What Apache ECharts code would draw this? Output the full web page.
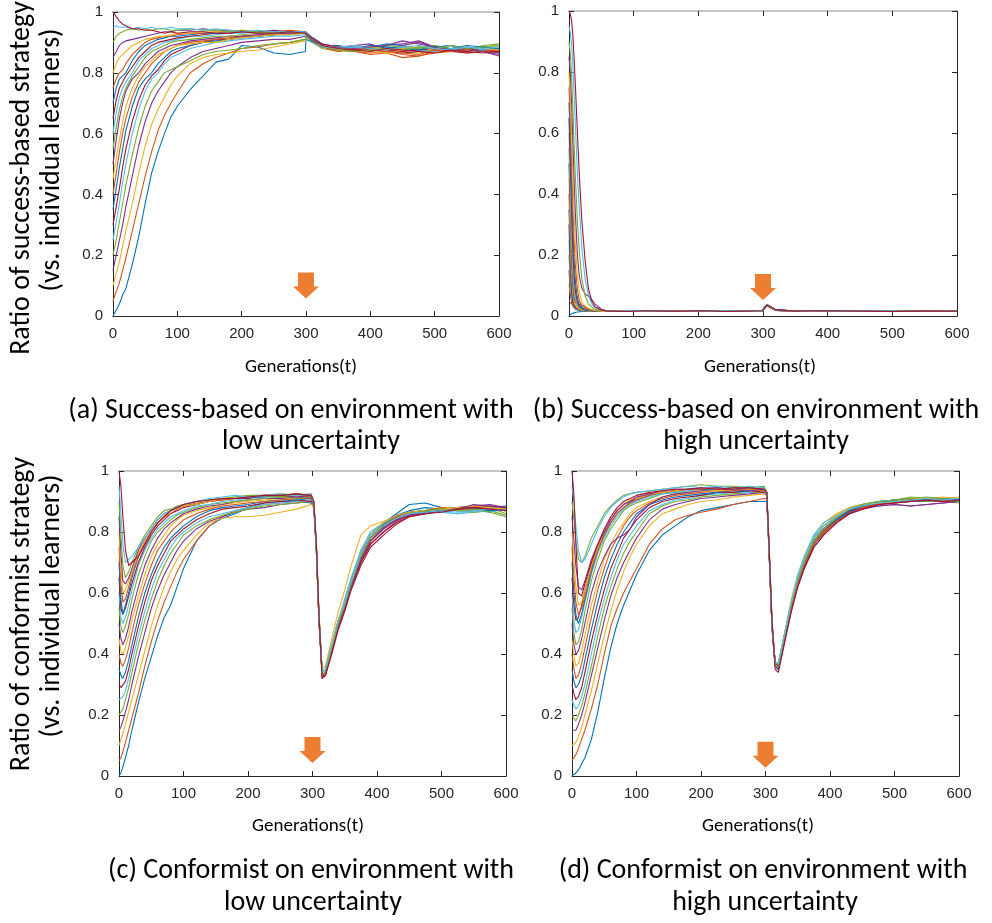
<!DOCTYPE html>
<html><head><meta charset="utf-8">
<script src="https://cdn.jsdelivr.net/npm/echarts@6/dist/echarts.min.js"></script>
<style>html,body{margin:0;padding:0;background:#fff}#c{width:992px;height:923px}</style>
</head><body><div id="c"></div>
<script>
const colors = ['#0072BD','#D95319','#EDB120','#7E2F8E','#77AC30','#4DBEEE','#A2142F'];
const xTicks = [0,100,200,300,400,500,600];

// (a) success-based, low uncertainty
const tA = [0,5,10,15,20,30,40,50,60,70,80,90,100,120,140,160,180,200,225,250,275,299,300,310,325,350,375,400,425,450,475,500,525,550,575,600];
const linesA = [
[0,.02,.04,.07,.09,.17,.26,.37,.47,.54,.60,.655,.69,.745,.79,.835,.845,.89,.885,.865,.86,.87, .91,.90,.89,.885,.88,.875,.88,.885,.87,.875,.88,.885,.875,.87],
[.05,.08,.11,.15,.19,.28,.37,.46,.54,.61,.66,.70,.735,.80,.83,.85,.865,.88,.885,.895,.90,.91, .92,.905,.89,.875,.87,.865,.87,.86,.855,.87,.875,.865,.87,.88],
[.10,.14,.18,.23,.28,.37,.47,.56,.63,.68,.72,.76,.79,.83,.85,.86,.865,.87,.875,.885,.895,.905, .925,.91,.895,.885,.89,.88,.875,.87,.865,.875,.88,.87,.875,.885],
[.15,.20,.25,.30,.36,.46,.56,.64,.70,.74,.77,.80,.82,.85,.87,.88,.89,.90,.905,.91,.91,.92, .925,.905,.885,.88,.875,.885,.89,.895,.905,.885,.875,.88,.87,.855],
[.20,.25,.31,.37,.43,.53,.62,.69,.74,.77,.80,.81,.82,.84,.86,.87,.875,.88,.89,.895,.90,.91, .92,.90,.88,.87,.875,.88,.885,.88,.885,.89,.88,.875,.89,.895],
[.25,.31,.37,.44,.50,.60,.68,.74,.78,.80,.83,.85,.86,.88,.89,.90,.905,.91,.915,.92,.92,.925, .93,.91,.89,.885,.88,.89,.885,.875,.88,.885,.89,.88,.875,.88],
[.30,.36,.42,.49,.55,.64,.71,.76,.79,.81,.84,.86,.87,.89,.90,.91,.91,.92,.92,.925,.93,.93, .935,.915,.895,.88,.885,.875,.87,.865,.87,.875,.87,.88,.875,.865],
[.35,.42,.49,.55,.61,.69,.75,.78,.80,.83,.85,.87,.88,.89,.90,.905,.91,.915,.92,.925,.925,.93, .93,.905,.89,.89,.88,.885,.895,.89,.88,.885,.88,.89,.885,.875],
[.40,.47,.54,.60,.65,.72,.77,.80,.83,.85,.87,.88,.89,.90,.905,.91,.915,.92,.925,.925,.93,.93, .93,.91,.885,.875,.87,.86,.865,.85,.855,.865,.87,.875,.87,.88],
[.45,.52,.58,.64,.69,.75,.79,.82,.84,.86,.87,.88,.89,.895,.90,.90,.91,.915,.92,.925,.925,.93, .935,.91,.89,.885,.875,.87,.865,.87,.88,.87,.875,.88,.87,.875],
[.50,.58,.65,.70,.74,.78,.80,.83,.85,.87,.88,.89,.895,.905,.91,.915,.92,.92,.925,.93,.93,.935, .935,.915,.895,.88,.89,.895,.88,.89,.90,.885,.875,.87,.88,.865],
[.55,.62,.68,.72,.75,.79,.82,.85,.87,.88,.89,.90,.905,.91,.915,.92,.92,.925,.93,.93,.935,.935, .935,.91,.885,.88,.875,.88,.89,.885,.88,.89,.875,.88,.885,.89],
[.60,.67,.72,.75,.77,.80,.84,.86,.88,.89,.90,.905,.91,.92,.92,.925,.93,.93,.935,.93,.935,.935, .935,.915,.89,.885,.89,.88,.875,.885,.875,.87,.88,.885,.875,.88],
[.65,.71,.75,.77,.79,.82,.85,.87,.89,.90,.905,.91,.915,.92,.925,.93,.93,.935,.935,.93,.935,.935, .935,.91,.895,.885,.875,.88,.875,.87,.875,.88,.87,.865,.87,.875],
[.70,.75,.78,.79,.80,.84,.87,.89,.90,.91,.915,.92,.92,.925,.93,.93,.935,.935,.935,.93,.935,.93, .93,.915,.89,.885,.88,.89,.885,.88,.875,.885,.89,.88,.885,.88],
[.75,.78,.80,.81,.83,.86,.88,.90,.91,.915,.92,.92,.925,.93,.93,.935,.935,.935,.935,.935,.94,.935, .935,.91,.885,.87,.88,.875,.87,.865,.86,.875,.87,.88,.87,.875],
[.80,.83,.85,.86,.87,.89,.90,.91,.915,.92,.92,.925,.93,.93,.935,.935,.935,.94,.935,.94,.935,.93, .93,.91,.89,.885,.88,.885,.875,.88,.885,.88,.875,.885,.88,.875],
[.85,.87,.89,.90,.905,.91,.915,.92,.925,.93,.935,.935,.94,.94,.945,.94,.94,.935,.935,.94,.935,.935, .935,.915,.895,.885,.88,.885,.89,.905,.895,.885,.875,.88,.87,.86],
[.90,.92,.93,.935,.94,.945,.94,.945,.94,.945,.945,.94,.94,.945,.94,.94,.935,.94,.935,.93,.935,.93, .93,.91,.89,.875,.87,.875,.88,.875,.885,.88,.89,.88,.885,.89],
[.95,.955,.95,.95,.95,.945,.95,.945,.95,.945,.945,.95,.945,.945,.94,.945,.94,.935,.94,.935,.935,.935, .935,.91,.885,.88,.885,.88,.875,.885,.89,.88,.875,.885,.88,.885],
[1,.985,.97,.96,.955,.945,.945,.94,.94,.935,.93,.935,.93,.935,.935,.93,.93,.935,.93,.93,.935,.93, .93,.91,.89,.88,.875,.87,.88,.875,.87,.865,.875,.87,.865,.87]
];

// (b) success-based, high uncertainty
const tB = [0,2,4,6,8,10,13,16,20,25,30,35,40,50,60,90,120,150,180,210,240,270,298,302,306,312,320,350,400,450,500,550,600];
const linesB = [
[0,.004,.007,.009,.011,.012,.013,.014,.015,.015,.016,.015,.016,.016, .016,.015,.017,.016,.015,.016,.017,.015,.016,.026,.036,.029,.019,.016,.015,.017,.016,.015,.016],
[.05,.045,.04,.036,.032,.029,.026,.023,.021,.019,.018,.017,.016,.016, .015,.016,.015,.017,.016,.015,.016,.017,.015,.025,.034,.028,.018,.015,.016,.015,.017,.016,.015],
[.10,.07,.055,.048,.043,.04,.036,.032,.028,.024,.021,.019,.018,.016, .017,.016,.015,.016,.017,.016,.015,.016,.017,.027,.037,.03,.02,.017,.016,.016,.015,.017,.016],
[.15,.08,.045,.032,.026,.022,.02,.018,.017,.016,.016,.015,.016,.016, .016,.017,.016,.015,.016,.017,.016,.015,.016,.024,.033,.027,.018,.016,.017,.015,.016,.016,.017],
[.2,.10,.055,.035,.027,.023,.02,.018,.017,.016,.016,.016,.015,.016, .015,.016,.017,.016,.015,.016,.017,.016,.015,.026,.035,.028,.019,.015,.016,.017,.016,.015,.016],
[.25,.13,.065,.04,.03,.025,.021,.019,.017,.016,.016,.015,.016,.015, .017,.015,.016,.017,.016,.015,.016,.017,.016,.025,.036,.029,.018,.017,.015,.016,.017,.016,.015],
[.3,.16,.08,.045,.032,.026,.022,.02,.018,.017,.016,.016,.015,.016, .016,.016,.015,.016,.017,.016,.015,.016,.015,.027,.038,.031,.02,.016,.016,.015,.016,.017,.016],
[.35,.2,.1,.055,.037,.029,.023,.02,.018,.017,.016,.016,.016,.015, .015,.017,.016,.015,.016,.017,.016,.015,.017,.024,.034,.027,.018,.015,.017,.016,.015,.016,.017],
[.4,.24,.12,.065,.042,.032,.025,.021,.019,.017,.016,.016,.015,.016, .016,.015,.017,.016,.015,.016,.017,.016,.016,.026,.035,.028,.019,.016,.015,.017,.016,.015,.016],
[.45,.29,.15,.08,.05,.036,.027,.022,.019,.018,.017,.016,.016,.015, .017,.016,.015,.017,.016,.015,.016,.017,.015,.025,.033,.027,.018,.017,.016,.015,.017,.016,.015],
[.5,.34,.19,.1,.06,.045,.04,.038,.035,.03,.024,.02,.018,.016, .015,.016,.016,.015,.017,.016,.015,.016,.017,.027,.037,.03,.02,.015,.016,.016,.015,.017,.016],
[.55,.39,.23,.13,.075,.05,.033,.026,.021,.019,.017,.016,.016,.015, .016,.017,.015,.016,.015,.017,.016,.015,.016,.026,.036,.029,.019,.016,.017,.015,.016,.016,.017],
[.6,.45,.29,.17,.1,.06,.038,.028,.022,.019,.017,.016,.016,.016, .017,.015,.016,.017,.016,.015,.017,.016,.015,.024,.034,.028,.018,.017,.015,.016,.017,.015,.016],
[.65,.51,.35,.22,.13,.08,.045,.031,.024,.02,.018,.017,.016,.016, .015,.016,.017,.015,.016,.016,.015,.017,.016,.025,.035,.029,.019,.015,.016,.017,.015,.016,.015],
[.7,.58,.43,.29,.18,.11,.06,.038,.027,.021,.019,.017,.016,.016, .016,.017,.016,.016,.015,.017,.016,.015,.017,.026,.036,.03,.02,.016,.017,.015,.016,.017,.016],
[.75,.65,.51,.36,.24,.16,.085,.05,.034,.026,.021,.019,.017,.016, .017,.015,.015,.017,.016,.015,.017,.016,.015,.025,.034,.027,.018,.017,.015,.016,.017,.016,.015],
[.8,.72,.6,.46,.33,.23,.13,.075,.045,.032,.025,.021,.018,.016, .015,.016,.017,.016,.017,.016,.015,.017,.016,.026,.035,.028,.019,.015,.016,.017,.015,.015,.016],
[.85,.8,.7,.57,.44,.33,.2,.13,.09,.072,.065,.055,.04,.022, .016,.017,.016,.015,.016,.017,.016,.015,.017,.027,.036,.029,.02,.016,.017,.016,.016,.017,.015],
[.9,.86,.79,.68,.56,.45,.31,.21,.12,.065,.04,.03,.022,.018, .017,.016,.015,.016,.017,.015,.016,.017,.015,.025,.034,.028,.018,.017,.015,.015,.017,.016,.016],
[.95,.93,.89,.82,.72,.62,.47,.35,.22,.12,.07,.04,.028,.02, .015,.017,.016,.017,.015,.016,.017,.016,.016,.026,.037,.03,.019,.015,.016,.017,.016,.015,.017],
[1,.99,.97,.92,.84,.75,.6,.46,.31,.18,.09,.05,.03,.02, .016,.015,.017,.016,.016,.017,.015,.016,.017,.025,.035,.029,.02,.016,.017,.016,.015,.016,.016]
];

// (c) conformist, low uncertainty
const tC = [0,3,6,10,15,20,30,40,50,60,70,80,90,100,120,140,160,180,200,225,250,275,298,302,306,310,315,320,330,340,350,360,375,390,410,430,450,475,500,525,550,575,600];
const linesC = [
[0,.01,.03,.06,.10,.15,.24,.32,.39,.46,.52,.56,.62,.68,.77,.82,.845,.86,.88,.895,.90,.90,.895, .88,.74,.51,.34,.35,.43,.51,.57,.64,.73,.79,.83,.86,.89,.895,.88,.87,.875,.87,.88],
[.05,.06,.08,.11,.15,.19,.27,.36,.44,.51,.57,.62,.67,.71,.77,.82,.85,.87,.88,.89,.895,.90,.905, .89,.75,.52,.33,.34,.42,.50,.57,.63,.72,.78,.82,.85,.865,.87,.875,.88,.875,.87,.88],
[.1,.12,.14,.17,.21,.25,.33,.41,.49,.56,.62,.67,.71,.74,.79,.83,.845,.85,.85,.855,.865,.875,.89, .88,.76,.54,.35,.36,.45,.54,.61,.69,.79,.82,.835,.85,.86,.87,.875,.87,.865,.87,.875],
[.15,.16,.18,.21,.25,.30,.39,.47,.55,.61,.66,.70,.74,.77,.81,.835,.85,.865,.875,.88,.89,.895,.90, .89,.75,.52,.34,.35,.42,.49,.55,.62,.71,.77,.81,.84,.855,.865,.87,.88,.885,.88,.875],
[.2,.21,.22,.25,.29,.34,.43,.51,.58,.64,.69,.73,.76,.79,.82,.84,.855,.865,.875,.885,.89,.895,.90, .89,.74,.51,.33,.34,.41,.49,.56,.63,.72,.78,.82,.845,.86,.87,.875,.87,.875,.88,.86],
[.25,.25,.26,.28,.32,.37,.46,.54,.61,.67,.71,.75,.78,.80,.83,.85,.86,.87,.88,.89,.895,.90,.905, .90,.76,.53,.34,.35,.43,.51,.58,.65,.73,.79,.825,.85,.865,.87,.865,.86,.865,.87,.875],
[.3,.29,.29,.31,.35,.40,.49,.57,.64,.69,.73,.77,.79,.81,.84,.86,.875,.88,.885,.895,.90,.905,.90, .90,.75,.52,.33,.33,.41,.49,.55,.62,.70,.76,.80,.835,.855,.86,.87,.875,.88,.875,.87],
[.35,.33,.32,.34,.38,.43,.52,.60,.66,.71,.75,.78,.80,.82,.85,.87,.88,.885,.89,.90,.905,.905,.91, .89,.74,.52,.34,.35,.42,.50,.57,.64,.73,.79,.83,.855,.87,.88,.875,.87,.875,.88,.885],
[.4,.37,.36,.38,.42,.47,.56,.63,.69,.74,.77,.80,.82,.84,.86,.875,.885,.89,.895,.90,.905,.91,.91, .90,.75,.53,.33,.34,.42,.50,.56,.63,.72,.78,.82,.845,.86,.865,.87,.875,.88,.875,.88],
[.45,.41,.40,.42,.46,.51,.59,.66,.72,.76,.79,.82,.84,.855,.87,.88,.89,.895,.90,.905,.91,.91,.915, .89,.76,.52,.34,.35,.43,.51,.57,.64,.74,.80,.83,.85,.86,.87,.88,.875,.87,.875,.87],
[.5,.45,.43,.45,.49,.54,.62,.69,.74,.78,.81,.83,.845,.86,.875,.885,.89,.90,.905,.91,.91,.915,.91, .90,.75,.51,.33,.34,.41,.49,.55,.62,.71,.77,.815,.84,.855,.865,.87,.88,.885,.89,.88],
[.55,.49,.47,.49,.53,.58,.66,.72,.77,.80,.82,.84,.855,.865,.88,.89,.895,.90,.905,.91,.915,.91,.915, .89,.74,.52,.34,.35,.42,.50,.56,.63,.72,.78,.82,.845,.86,.87,.875,.87,.865,.87,.855],
[.6,.52,.5,.52,.56,.61,.69,.74,.78,.81,.83,.85,.86,.87,.885,.89,.90,.905,.91,.915,.915,.92,.915, .90,.76,.53,.33,.34,.43,.51,.58,.65,.74,.80,.83,.85,.86,.865,.865,.86,.87,.865,.875],
[.65,.55,.53,.55,.59,.63,.70,.75,.79,.82,.84,.86,.87,.88,.89,.90,.905,.91,.91,.92,.92,.925,.92, .89,.75,.52,.32,.33,.41,.49,.55,.62,.70,.76,.80,.83,.85,.86,.87,.875,.88,.885,.88],
[.7,.58,.53,.56,.60,.65,.72,.76,.80,.83,.85,.87,.88,.885,.89,.90,.91,.91,.915,.915,.92,.92,.92, .90,.74,.52,.34,.35,.42,.50,.57,.64,.73,.79,.825,.85,.865,.87,.875,.88,.875,.87,.875],
[.75,.63,.57,.58,.62,.66,.72,.77,.80,.83,.85,.86,.875,.885,.895,.90,.905,.91,.915,.92,.915,.92,.915, .89,.75,.51,.33,.34,.42,.50,.56,.63,.72,.78,.82,.85,.865,.87,.88,.875,.87,.875,.88],
[.8,.68,.6,.61,.64,.67,.73,.77,.80,.83,.85,.87,.88,.885,.89,.90,.91,.915,.915,.92,.925,.92,.925, .90,.76,.53,.34,.35,.43,.51,.57,.64,.73,.79,.83,.855,.865,.87,.875,.88,.885,.88,.875],
[.85,.73,.64,.63,.65,.68,.74,.78,.81,.84,.86,.87,.88,.89,.90,.905,.91,.91,.915,.92,.92,.915,.92, .89,.75,.52,.33,.34,.41,.49,.55,.62,.71,.77,.81,.84,.855,.865,.87,.875,.89,.885,.88],
[.9,.79,.69,.65,.67,.70,.75,.79,.82,.85,.87,.875,.885,.89,.90,.905,.91,.915,.92,.92,.915,.925,.92, .90,.74,.51,.33,.34,.42,.50,.56,.63,.72,.78,.82,.845,.86,.87,.875,.87,.875,.865,.85],
[.95,.86,.76,.70,.71,.72,.75,.78,.81,.84,.86,.87,.88,.89,.90,.91,.915,.92,.915,.92,.925,.92,.925, .89,.75,.52,.34,.35,.43,.51,.57,.64,.73,.79,.82,.845,.86,.865,.87,.865,.87,.875,.87],
[1,.95,.85,.74,.69,.70,.72,.76,.80,.83,.85,.87,.88,.89,.90,.905,.91,.91,.915,.92,.92,.925,.92, .90,.76,.53,.32,.33,.40,.48,.54,.61,.69,.75,.79,.825,.85,.86,.865,.875,.88,.875,.87]
];

// (d) conformist, high uncertainty
const tD = [0,3,6,10,15,20,30,40,50,60,70,80,90,100,120,140,160,180,200,225,250,275,298,302,306,310,315,320,330,340,350,360,375,390,410,430,450,475,500,525,550,575,600];
const linesD = [
[0,.005,.01,.02,.04,.06,.12,.21,.32,.42,.50,.56,.61,.66,.74,.79,.82,.85,.87,.88,.89,.90,.90, .90,.71,.49,.37,.37,.47,.57,.65,.71,.78,.82,.85,.875,.89,.90,.905,.90,.905,.91,.90],
[.05,.06,.07,.09,.12,.15,.22,.30,.40,.49,.55,.60,.64,.68,.76,.81,.84,.855,.865,.875,.89,.90,.91, .91,.72,.50,.36,.36,.46,.56,.64,.70,.77,.805,.84,.865,.88,.895,.905,.91,.905,.90,.905],
[.1,.1,.11,.13,.16,.20,.28,.37,.46,.54,.61,.67,.72,.76,.82,.86,.875,.89,.90,.905,.915,.92,.925, .92,.73,.51,.36,.37,.47,.58,.66,.72,.79,.83,.86,.88,.89,.90,.90,.905,.91,.91,.905],
[.15,.15,.15,.17,.20,.24,.33,.42,.51,.59,.65,.70,.74,.78,.84,.875,.89,.90,.91,.915,.92,.925,.93, .92,.72,.50,.37,.36,.45,.55,.63,.69,.76,.80,.84,.87,.885,.89,.895,.90,.90,.905,.91],
[.2,.19,.18,.20,.23,.27,.36,.46,.55,.62,.68,.73,.77,.80,.86,.885,.90,.905,.915,.92,.925,.93,.93, .93,.73,.51,.36,.36,.46,.56,.64,.70,.77,.81,.845,.875,.89,.90,.905,.915,.91,.90,.895],
[.25,.23,.22,.23,.26,.30,.40,.50,.58,.65,.71,.76,.79,.82,.87,.89,.905,.91,.92,.925,.93,.93,.935, .92,.72,.50,.37,.37,.47,.57,.66,.72,.79,.83,.855,.88,.89,.895,.90,.905,.91,.905,.91],
[.3,.27,.25,.26,.29,.34,.44,.53,.61,.68,.73,.78,.81,.84,.88,.90,.91,.915,.92,.93,.93,.935,.93, .93,.71,.49,.36,.35,.45,.55,.63,.69,.76,.80,.84,.865,.88,.89,.895,.90,.905,.90,.905],
[.35,.31,.29,.30,.33,.38,.48,.57,.65,.71,.76,.80,.83,.86,.89,.905,.915,.92,.925,.93,.935,.935,.94, .92,.72,.50,.37,.36,.46,.56,.64,.70,.77,.81,.845,.87,.885,.895,.90,.905,.90,.905,.91],
[.4,.35,.32,.33,.37,.42,.52,.61,.68,.74,.78,.82,.85,.87,.895,.91,.92,.925,.93,.935,.935,.94,.935, .93,.73,.51,.36,.36,.46,.55,.63,.69,.76,.795,.835,.86,.875,.89,.90,.905,.91,.905,.90],
[.45,.39,.36,.37,.41,.46,.56,.64,.71,.76,.80,.83,.86,.88,.90,.915,.925,.93,.935,.935,.94,.94,.935, .92,.72,.50,.37,.37,.47,.57,.65,.71,.78,.82,.85,.875,.89,.895,.90,.91,.905,.91,.915],
[.5,.43,.40,.41,.45,.50,.60,.67,.72,.76,.78,.79,.81,.85,.89,.915,.925,.93,.935,.94,.94,.935,.94, .93,.71,.49,.36,.35,.45,.55,.63,.69,.76,.80,.84,.865,.88,.885,.89,.885,.89,.895,.90],
[.55,.47,.43,.44,.48,.54,.64,.71,.77,.81,.84,.87,.885,.895,.91,.925,.93,.935,.94,.945,.94,.945,.94, .92,.72,.50,.37,.36,.46,.56,.64,.70,.77,.81,.845,.87,.885,.895,.90,.905,.90,.905,.91],
[.6,.51,.47,.48,.52,.57,.66,.73,.78,.82,.85,.875,.89,.90,.915,.925,.93,.935,.94,.94,.945,.94,.945, .93,.73,.51,.36,.36,.47,.57,.65,.71,.785,.82,.85,.875,.89,.90,.905,.90,.905,.91,.905],
[.65,.56,.51,.52,.56,.61,.69,.75,.80,.84,.87,.89,.90,.91,.925,.93,.935,.94,.945,.94,.94,.945,.94, .92,.72,.50,.37,.36,.46,.56,.64,.70,.77,.81,.845,.87,.885,.895,.90,.905,.905,.90,.905],
[.7,.6,.53,.50,.53,.58,.67,.74,.79,.83,.86,.88,.895,.905,.92,.93,.935,.94,.94,.94,.945,.94,.94, .93,.71,.49,.36,.35,.45,.55,.63,.69,.76,.80,.84,.865,.885,.895,.905,.91,.905,.91,.905],
[.75,.65,.57,.53,.55,.59,.68,.74,.79,.83,.86,.88,.895,.905,.92,.93,.935,.94,.94,.945,.94,.94,.935, .92,.72,.50,.37,.36,.46,.55,.63,.69,.76,.80,.835,.86,.88,.89,.90,.905,.91,.905,.90],
[.8,.71,.62,.56,.57,.61,.69,.75,.80,.84,.87,.89,.905,.91,.925,.93,.935,.94,.945,.94,.945,.94,.945, .93,.73,.51,.36,.37,.47,.57,.65,.71,.78,.82,.855,.88,.89,.895,.90,.91,.91,.915,.91],
[.85,.77,.69,.62,.61,.64,.71,.76,.80,.84,.87,.89,.90,.915,.925,.935,.94,.94,.945,.945,.94,.945,.94, .92,.72,.50,.37,.36,.45,.54,.62,.68,.75,.79,.83,.86,.875,.885,.89,.885,.89,.895,.90],
[.9,.84,.77,.71,.70,.72,.78,.82,.86,.885,.905,.92,.925,.93,.935,.94,.945,.95,.955,.95,.95,.945,.95, .93,.71,.49,.36,.36,.46,.56,.64,.70,.77,.81,.845,.875,.89,.90,.905,.91,.915,.91,.90],
[.95,.9,.82,.74,.70,.71,.76,.81,.85,.88,.90,.915,.925,.93,.935,.94,.945,.95,.945,.95,.945,.95,.945, .92,.72,.50,.37,.37,.47,.57,.65,.71,.78,.82,.85,.875,.885,.895,.90,.905,.91,.905,.91],
[1,.92,.76,.60,.59,.63,.70,.76,.81,.85,.88,.90,.91,.92,.93,.935,.94,.94,.945,.94,.945,.945,.94, .93,.73,.51,.35,.34,.44,.54,.62,.68,.75,.79,.83,.86,.875,.89,.895,.90,.905,.90,.905]
];

// orange arrows marking the environment change at t = 300
const arrowT = 300;
const arrowV = [0.10, 0.095, 0.085, 0.07];

const yTitles = [['Ratio of success-based strategy','(vs. individual learners)'],['Ratio of conformist strategy','(vs. individual learners)']];
const captions = [
  ['(a) Success-based on environment with','low uncertainty'],
  ['(b) Success-based on environment with','high uncertainty'],
  ['(c) Conformist on environment with','low uncertainty'],
  ['(d) Conformist on environment with','high uncertainty']
];
const xName = 'Generations(t)';

const chart = echarts.init(document.getElementById('c'), null, {renderer:'canvas'});
const grids = [
  {left:113, top:12, width:386, height:304},
  {left:569, top:11, width:388, height:305},
  {left:119, top:471, width:387, height:305},
  {left:572, top:471, width:387, height:305}
];
const panels = [{t:tA, lines:linesA},{t:tB, lines:linesB},{t:tC, lines:linesC},{t:tD, lines:linesD}];
const tickFont = {color:'#262626', fontFamily:'Liberation Sans, Arial, sans-serif', fontSize:15};
const capFont = 'Carlito, Lato, sans-serif';
const xAxis=[], yAxis=[], series=[];
panels.forEach((p,i)=>{
  xAxis.push({gridIndex:i, type:'value', min:0, max:600, interval:100, position:'bottom',
    axisLine:{show:true,onZero:false,lineStyle:{color:'#262626',width:1}},
    axisTick:{show:true,inside:true,length:5,lineStyle:{color:'#262626'}},
    axisLabel:Object.assign({margin:10}, tickFont), splitLine:{show:false}});
  xAxis.push({gridIndex:i, type:'value', min:0, max:600, interval:100, position:'top',
    axisLine:{show:true,onZero:false,lineStyle:{color:'#c4c4c4',width:2}},
    axisTick:{show:true,inside:true,length:5,lineStyle:{color:'#262626'}},
    axisLabel:{show:false}, splitLine:{show:false}});
  yAxis.push({gridIndex:i, type:'value', min:0, max:1, interval:0.2, position:'left',
    axisLine:{show:true,onZero:false,lineStyle:{color:'#262626',width:1}},
    axisTick:{show:true,inside:true,length:5,lineStyle:{color:'#262626'}},
    axisLabel:Object.assign({margin:10}, tickFont), splitLine:{show:false}});
  yAxis.push({gridIndex:i, type:'value', min:0, max:1, interval:0.2, position:'right',
    axisLine:{show:true,onZero:false,lineStyle:{color:'#262626',width:1}},
    axisTick:{show:true,inside:true,length:5,lineStyle:{color:'#262626'}},
    axisLabel:{show:false}, splitLine:{show:false}});
  p.lines.forEach((row,k)=>{
    const c = colors[k%7];
    series.push({type:'line', xAxisIndex:2*i, yAxisIndex:2*i, data:p.t.map((t,j)=>[t,row[j]]),
      showSymbol:false, symbol:'none', lineStyle:{width:1.1,color:c}, itemStyle:{color:c},
      animation:false, silent:true, z:2});
  });
  series.push({type:'scatter', xAxisIndex:2*i, yAxisIndex:2*i, data:[[arrowT, arrowV[i]]],
    symbol:'path://M5,0 L21,0 L21,14 L26,14 L13,26 L0,14 L5,14 Z', symbolSize:[26,26],
    itemStyle:{color:'#ED7D31', opacity:1}, silent:true, animation:false, z:5});
});

const graphic = [];
function txt(x,y,s,size,rot){
  graphic.push({type:'text', x:x, y:y, rotation:rot||0, silent:true,
    style:{text:s, x:0, y:0, font:size+'px '+capFont, fill:'#000', textAlign:'center', textVerticalAlign:'middle', align:'center', verticalAlign:'middle'}});
}
// x-axis names
txt(301,367,xName,19); txt(760,367,xName,19); txt(308,826,xName,19); txt(758,826,xName,19);
// y titles
txt(22,178,yTitles[0][0],28,Math.PI/2); txt(52,160,yTitles[0][1],28,Math.PI/2);
txt(22,614,yTitles[1][0],28,Math.PI/2); txt(52,606,yTitles[1][1],28,Math.PI/2);
// captions
txt(291,411,captions[0][0],28); txt(311,442,captions[0][1],28);
txt(756,411,captions[1][0],28); txt(756,442,captions[1][1],28);
txt(311,871,captions[2][0],28); txt(313,903,captions[2][1],28);
txt(763,871,captions[3][0],28); txt(765,903,captions[3][1],28);

chart.setOption({animation:false, grid:grids, xAxis:xAxis, yAxis:yAxis, series:series, graphic:graphic});
</script></body></html>
